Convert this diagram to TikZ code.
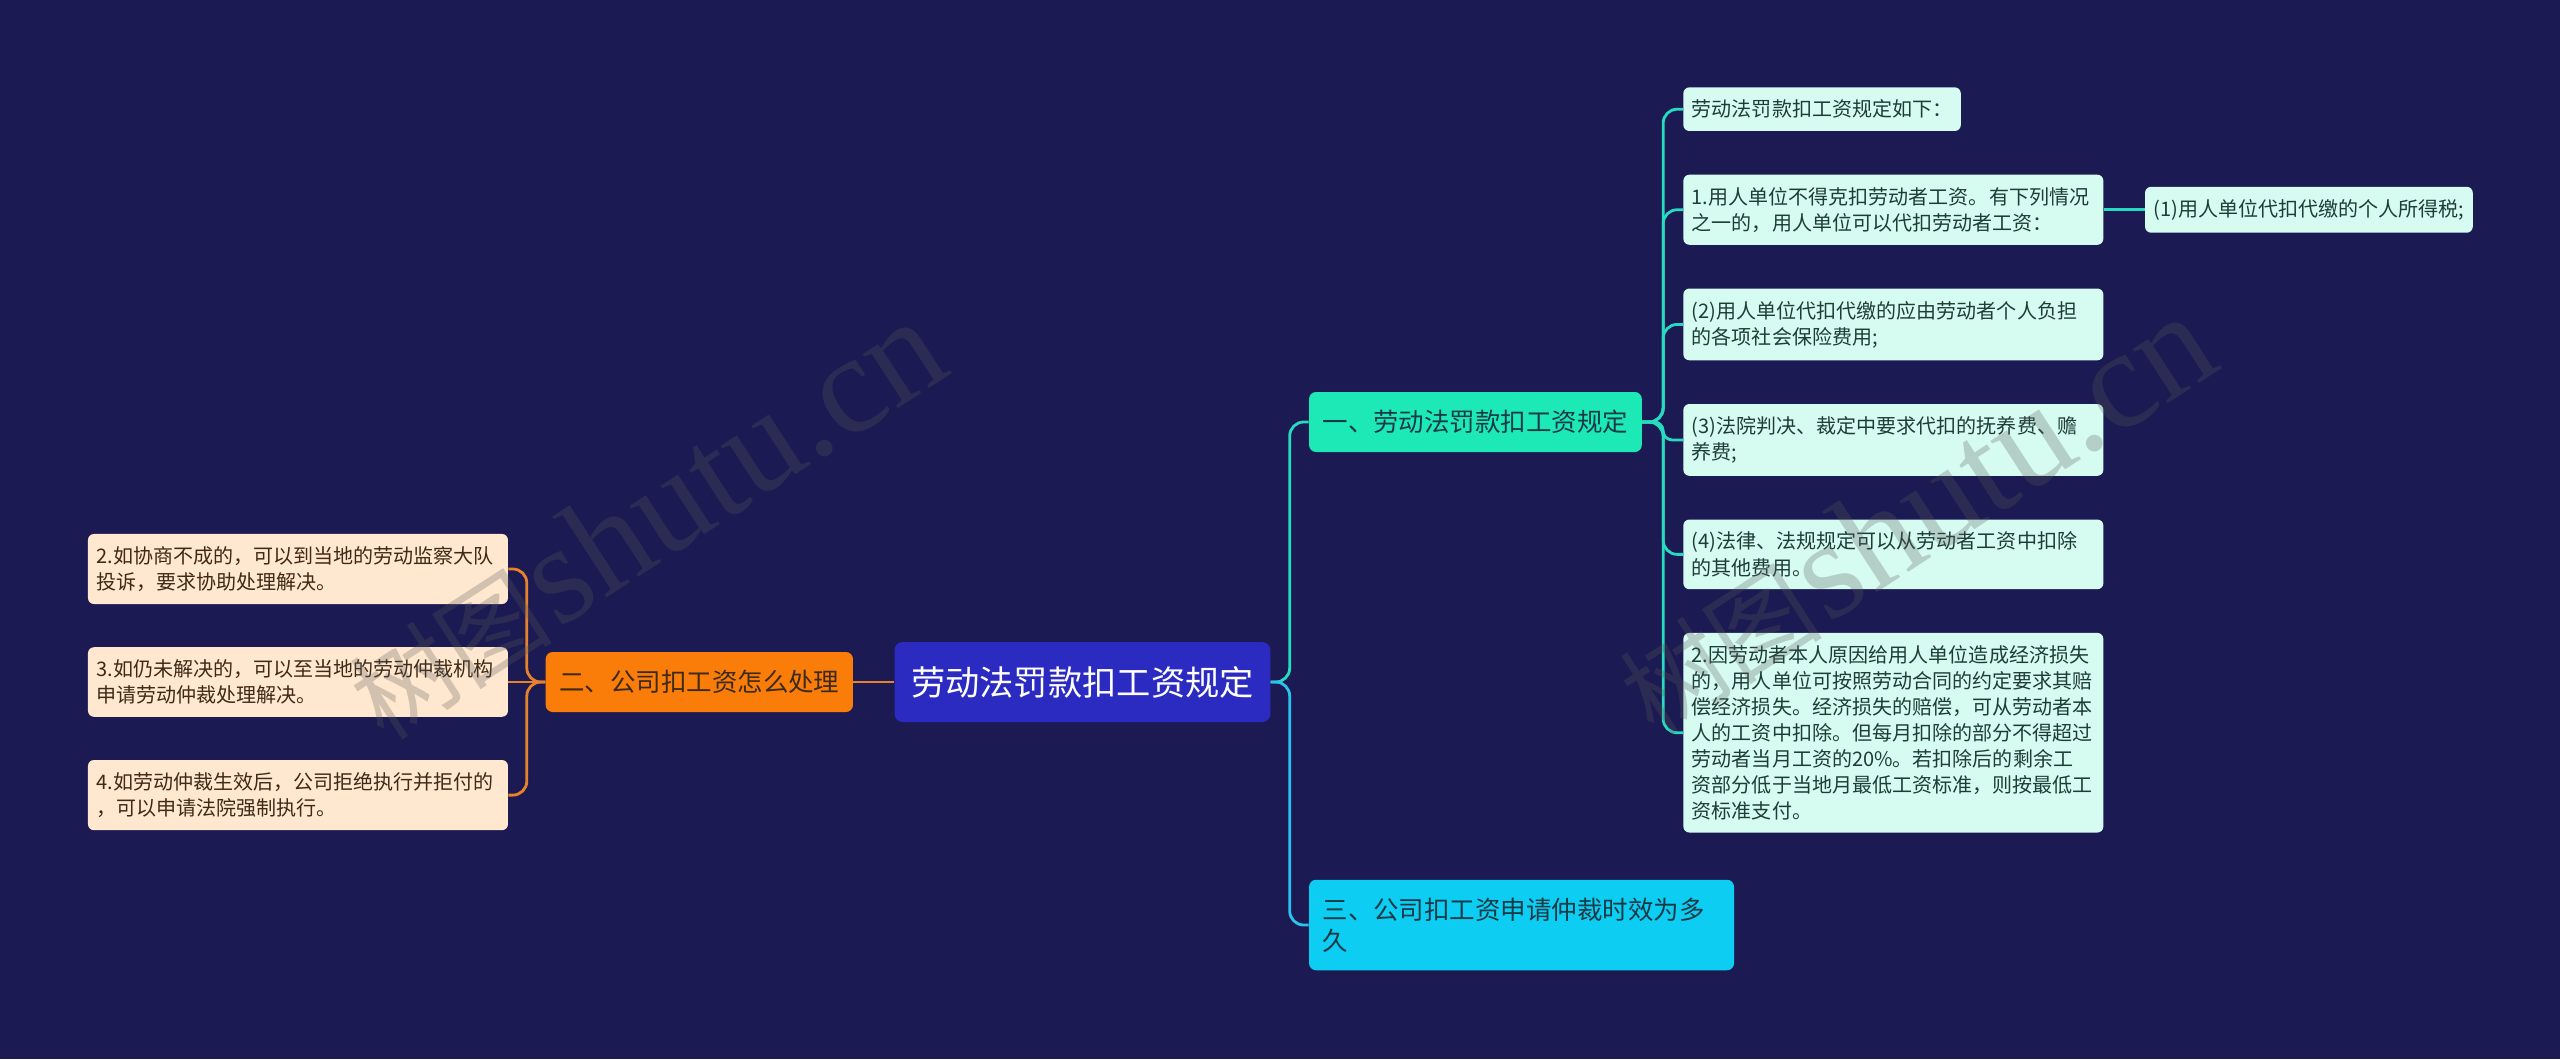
\documentclass[tikz,border=0pt]{standalone}
\usepackage{fontspec}
\newfontfamily\cjk{Noto Sans CJK SC}
\newfontfamily\wmserif{Liberation Serif}
\usetikzlibrary{positioning,calc}

\definecolor{bgnavy}{HTML}{1B1A52}
\definecolor{rootblue}{HTML}{2B2BC1}
\definecolor{tealA}{HTML}{1DE9B6}
\definecolor{cyanA}{HTML}{0ECDF2}
\definecolor{orangeA}{HTML}{FA7D0A}
\definecolor{mint}{HTML}{D6FBF1}
\definecolor{peach}{HTML}{FFE8CF}
\definecolor{tealline}{HTML}{26DBC0}
\definecolor{cyanline}{HTML}{2BC3EE}
\definecolor{orangeline}{HTML}{E8822A}
\definecolor{inkgreen}{HTML}{1F3D36}
\definecolor{inknavy}{HTML}{173A47}
\definecolor{inkbrown}{HTML}{3D2A18}

\begin{document}
\begin{tikzpicture}[
  every node/.style={font=\cjk},
  rootbox/.style={rectangle,rounded corners=0.16cm,fill=rootblue,text=white,font=\cjk\fontsize{19.5}{23}\selectfont,inner xsep=0.33cm,inner ysep=0.46cm,minimum height=1.6cm},
  topic/.style={rectangle,rounded corners=0.14cm,text=inknavy,font=\cjk\fontsize{14.5}{17.6}\selectfont,inner xsep=0.27cm,inner ysep=0.36cm,minimum height=1.2cm,align=left},
  leaf/.style={rectangle,rounded corners=0.12cm,fill=mint,text=inkgreen,font=\cjk\fontsize{11.4}{14.8}\selectfont,inner xsep=0.17cm,inner ysep=0.25cm,minimum height=0.86cm,align=left},
  wide/.style={text width=8.06cm},
  note/.style={leaf,wide,fill=peach,text=inkbrown},
  link/.style={line width=1.6pt,rounded corners=0.28cm},
  wmark/.style={text=black!65,text opacity=0.27,rotate=33}
]
\fill[bgnavy] (0,0) rectangle (51.2,-21.18);
\useasboundingbox (0,0) rectangle (51.2,-21.18);

% centre and first level
\node[rootbox] (root) at (21.65,-13.64) {劳动法罚款扣工资规定};
\node[topic,fill=orangeA,text=inkbrown,left=0.82cm of root] (sec2) {二、公司扣工资怎么处理};
\node[topic,fill=tealA,right=0.76cm of root,yshift=5.2cm] (sec1) {一、劳动法罚款扣工资规定};
\node[topic,fill=cyanA,text width=7.96cm,right=0.76cm of root,yshift=-4.86cm] (sec3) {三、公司扣工资申请仲裁时效为多\\久};

% left side
\node[note,left=0.74cm of sec2] (l3) {3.如仍未解决的，可以至当地的劳动仲裁机构\\申请劳动仲裁处理解决。};
\node[note,above=0.85cm of l3] (l2) {2.如协商不成的，可以到当地的劳动监察大队\\投诉，要求协助处理解决。};
\node[note,below=0.85cm of l3] (l4) {4.如劳动仲裁生效后，公司拒绝执行并拒付的\\，可以申请法院强制执行。};

% right side
\node[leaf,anchor=north west] (c0) at (33.66,-1.74) {劳动法罚款扣工资规定如下：};
\node[leaf,wide,anchor=north west] (c1) at ([yshift=-0.86cm]c0.south west) {1.用人单位不得克扣劳动者工资。有下列情况\\之一的，用人单位可以代扣劳动者工资：};
\node[leaf,right=0.82cm of c1] (c11) {(1)用人单位代扣代缴的个人所得税;};
\node[leaf,wide,anchor=north west] (c2) at ([yshift=-0.86cm]c1.south west) {(2)用人单位代扣代缴的应由劳动者个人负担\\的各项社会保险费用;};
\node[leaf,wide,anchor=north west] (c3) at ([yshift=-0.86cm]c2.south west) {(3)法院判决、裁定中要求代扣的抚养费、赡\\养费;};
\node[leaf,wide,anchor=north west] (c4) at ([yshift=-0.86cm]c3.south west) {(4)法律、法规规定可以从劳动者工资中扣除\\的其他费用。};
\node[leaf,wide,anchor=north west] (c5) at ([yshift=-0.86cm]c4.south west) {2.因劳动者本人原因给用人单位造成经济损失\\的，用人单位可按照劳动合同的约定要求其赔\\偿经济损失。经济损失的赔偿，可从劳动者本\\人的工资中扣除。但每月扣除的部分不得超过\\劳动者当月工资的20\%。若扣除后的剩余工\\资部分低于当地月最低工资标准，则按最低工\\资标准支付。};

% connectors
\draw[link,orangeline] (root.west) -- (sec2.east);
\draw[link,orangeline] (sec2.west) -- (l3.east);
\foreach \leafname in {l2,l4}
  \draw[link,orangeline] (sec2.west) -- ++(-0.37,0) |- (\leafname.east);
\foreach \secname/\col in {sec1/tealline,sec3/cyanline}
  \draw[link,\col] (root.east) -- ++(0.38,0) |- (\secname.west);
\foreach \leafname in {c0,c1,c2,c4,c5}
  \draw[link,tealline] (sec1.east) -- ++(0.42,0) |- (\leafname.west);
\draw[link,tealline,rounded corners=0.18cm] (sec1.east) -- ++(0.42,0) |- (c3.west);
\draw[link,tealline] (c1.east) -- (c11.west);

% watermarks
\node[wmark] (wm1) at (12.9,-10.4) {{\fontsize{58}{60}\selectfont 树图} {\wmserif\fontsize{80}{80}\selectfont shutu.cn}};
\node[wmark] (wm2) at (38.3,-10.3) {{\fontsize{58}{60}\selectfont 树图} {\wmserif\fontsize{80}{80}\selectfont shutu.cn}};
\end{tikzpicture}
\end{document}
